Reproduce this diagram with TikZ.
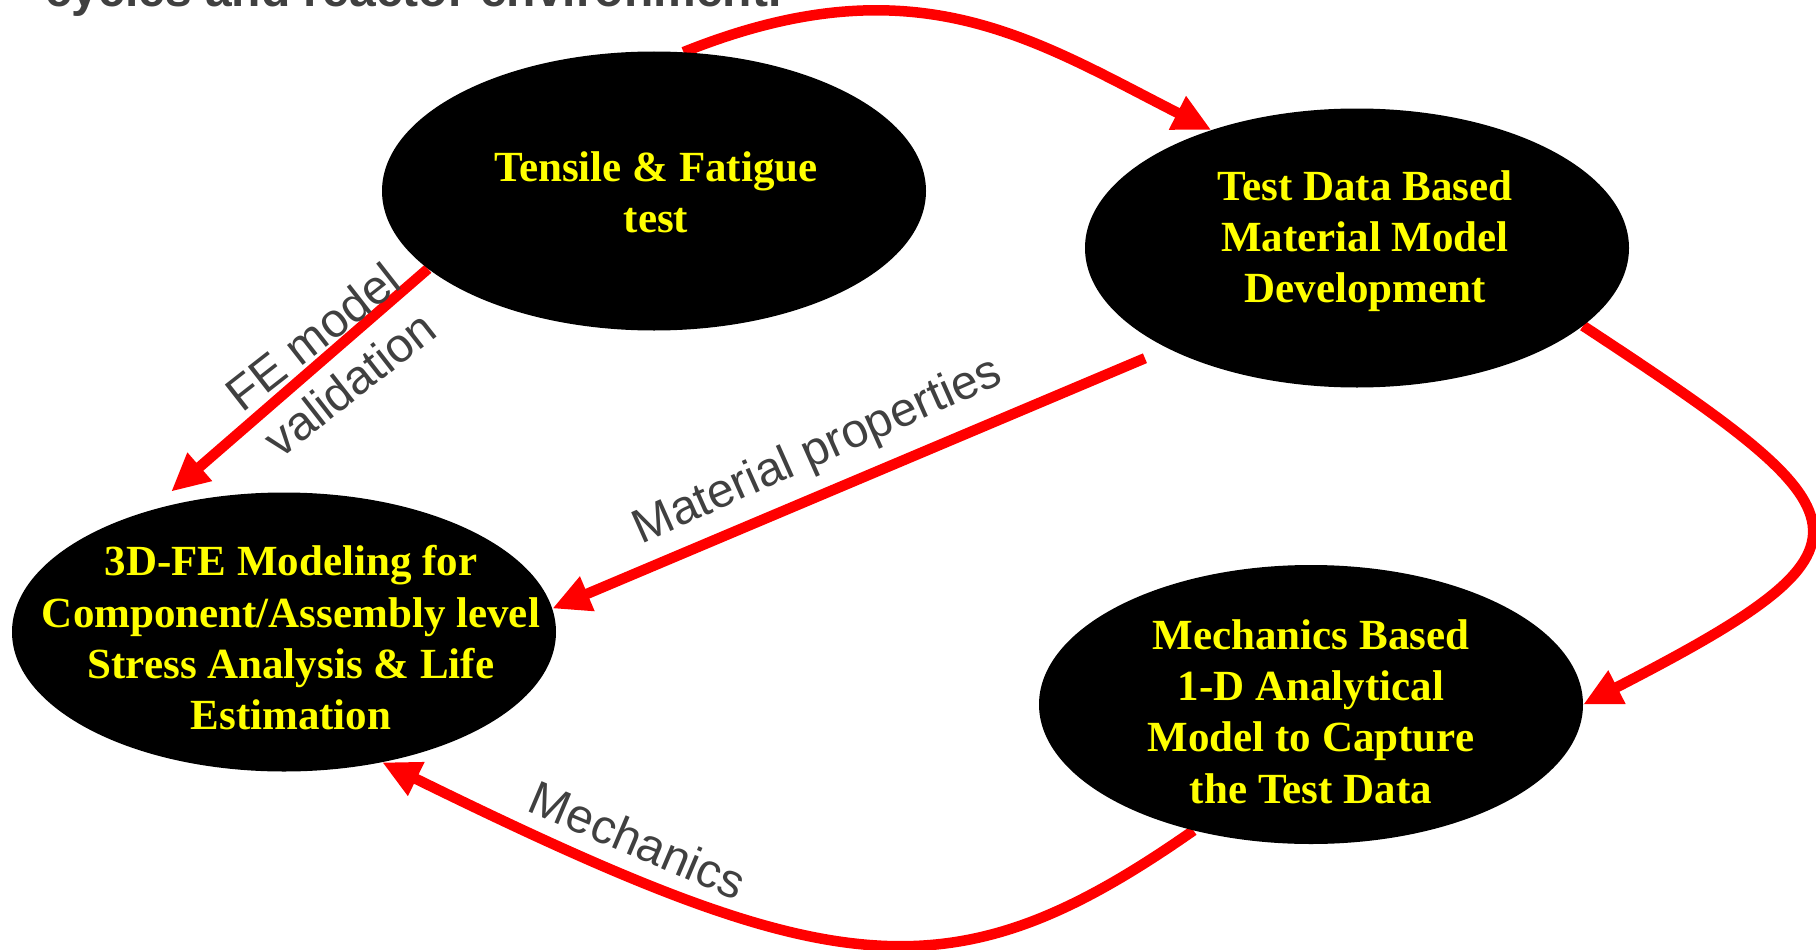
\documentclass[tikz,border=0pt]{standalone}
\usepackage{fontspec}
\newfontfamily\labelfont{Liberation Sans}
\newfontfamily\boxfont{Liberation Serif}
\usetikzlibrary{arrows.meta,shapes.geometric}
\definecolor{tred}{HTML}{FF0000}
\definecolor{tyellow}{HTML}{FFFF00}
\definecolor{tgray}{HTML}{404040}
\pgfdeclarelayer{bg}
\pgfsetlayers{bg,main}
\begin{document}
\begin{tikzpicture}[x=1pt,y=-1pt,
  blob/.style={ellipse, fill=black, minimum width=544pt, minimum height=279pt, inner sep=0pt},
  blobtext/.style={align=center, text=tyellow, inner sep=0pt,
    font=\boxfont\bfseries\fontsize{43}{51.3}\selectfont},
  flow/.style={draw=tred, line width=10.5pt, -{Triangle[length=38pt,width=35pt]}},
  lbl/.style={text=tgray, inner sep=0pt, align=center,
    font=\labelfont\fontsize{48}{60}\selectfont}]
\useasboundingbox (0,0) rectangle (1816,950);

% partly visible heading at the top edge
\node[anchor=base west, inner sep=0pt, text=tgray,
  font=\labelfont\bfseries\fontsize{48}{58}\selectfont] (head) at (45,7)
  {cycles and reactor environment.};

% ellipses
\node[blob] (A) at (654,191) {};
\node[blob] (B) at (1357,248) {};
\node[blob] (C) at (284,632) {};
\node[blob] (D) at (1311,704.5) {};

\node[blobtext] (At) at ([yshift=-1pt, xshift=2pt]A.center) {Tensile \& Fatigue\\test};
\node[blobtext] (Bt) at ([yshift=7pt, xshift=8pt]B.center) {Test Data Based\\Material Model\\Development};
\node[blobtext] (Ct) at ([yshift=-6pt, xshift=7pt]C.center) {3D-FE Modeling for\\Component/Assembly level\\Stress Analysis \& Life\\Estimation};
\node[blobtext] (Dt) at ([yshift=-7pt]D.center) {Mechanics Based\\1-D Analytical\\Model to Capture\\the Test Data};

% connectors
\begin{pgfonlayer}{bg}
\fill[white] (0,0) rectangle (1816,950);
\draw[flow] (A.78) .. controls (915,-41) and (1034,40) .. (B.141);
\draw[flow] (B.-19) .. controls (1874,517) and (1894,544.5) .. (D.0);
\draw[flow, shorten <=25pt] (B.208) -- (C.5);
\draw[flow] (D.227) .. controls (951,1000) and (834,984) .. (C.307);
\draw[flow, shorten >=29pt] (A.199) -- (C.138);
\end{pgfonlayer}

% labels
\node[lbl, rotate=38] (l1) at (331,360) {FE model\\validation};
\node[lbl, rotate=24] (l2) at (818,452) {Material properties};
\node[lbl, rotate=-23] (l3) at (638,840) {Mechanics};
\end{tikzpicture}
\end{document}
